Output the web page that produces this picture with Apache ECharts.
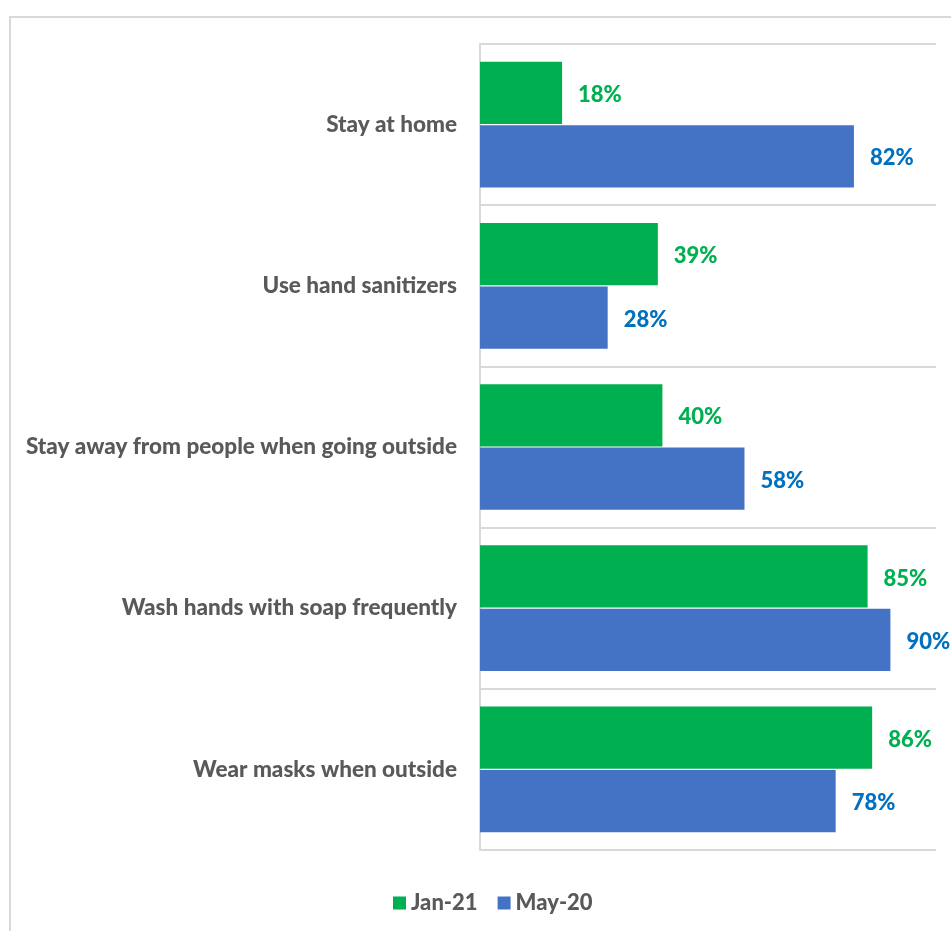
<!DOCTYPE html>
<html>
<head>
<meta charset="utf-8">
<script src="https://cdn.jsdelivr.net/npm/echarts@6/dist/echarts.min.js"></script>
<style>
  html, body { margin: 0; padding: 0; background: #fff; }
  #frame { position: absolute; left: 9px; top: 16px; width: 980px; height: 960px;
           border: 2px solid #D9D9D9; box-sizing: border-box; }
  #chart { position: absolute; left: 0; top: 0; width: 951px; height: 931px; }
</style>
</head>
<body>
<div id="frame"></div>
<div id="chart"></div>
<script>
// Precautions taken, share of respondents (%)
const categories = [
  'Stay at home',
  'Use hand sanitizers',
  'Stay away from people when going outside',
  'Wash hands with soap frequently',
  'Wear masks when outside'
];
const seriesNames = ['Jan-21', 'May-20'];
const jan21 = [18, 39, 40, 85, 86];
const may20 = [82, 28, 58, 90, 78];

const FONT = 'Lato';
const WEIGHT = 900;
const GREEN = '#00B050';
const BLUE = '#4472C4';

const chart = echarts.init(document.getElementById('chart'), null, { renderer: 'canvas' });

function labelFor(color) {
  return {
    show: true,
    position: 'right',
    distance: 16,
    offset: [0, 2],
    formatter: '{c}%',
    color: color,
    fontFamily: FONT,
    fontWeight: WEIGHT,
    fontSize: 22
  };
}

chart.setOption({
  animation: false,
  backgroundColor: 'transparent',
  grid: { left: 480, right: 15, top: 44, bottom: 81, containLabel: false },
  legend: {
    bottom: 12,
    left: 388,
    itemWidth: 13,
    itemHeight: 13,
    itemGap: 20,
    icon: 'rect',
    textStyle: { color: '#595959', fontFamily: FONT, fontWeight: WEIGHT, fontSize: 22 },
    data: seriesNames
  },
  xAxis: {
    type: 'value',
    min: 0,
    max: 100,
    axisLabel: { show: false },
    axisLine: { show: false },
    axisTick: { show: false },
    splitLine: { show: false }
  },
  yAxis: {
    type: 'category',
    inverse: true,
    data: categories,
    axisLine: { show: true, lineStyle: { color: '#D9D9D9', width: 2 } },
    axisTick: { show: false },
    splitLine: { show: true, lineStyle: { color: '#D9D9D9', width: 2 } },
    axisLabel: {
      margin: 23,
      color: '#595959',
      fontFamily: FONT,
      fontWeight: WEIGHT,
      fontSize: 22.5
    }
  },
  series: [
    {
      name: seriesNames[0],
      type: 'bar',
      data: jan21,
      itemStyle: { color: GREEN },
      barGap: '2%',
      barCategoryGap: '22%',
      label: labelFor(GREEN)
    },
    {
      name: seriesNames[1],
      type: 'bar',
      data: may20,
      itemStyle: { color: BLUE },
      barGap: '2%',
      barCategoryGap: '22%',
      label: labelFor('#0070C0')
    }
  ]
});
</script>
</body>
</html>
